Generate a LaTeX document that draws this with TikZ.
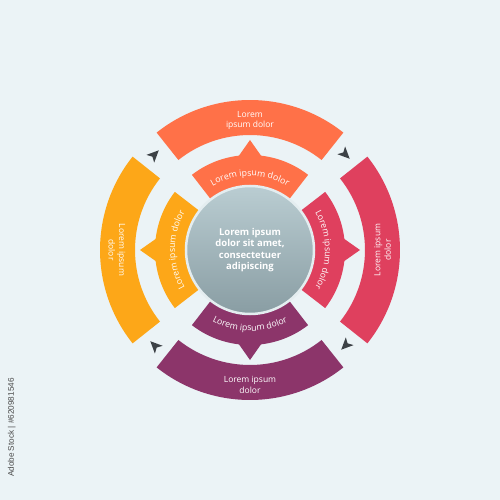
\documentclass[tikz,border=0pt]{standalone}
\usepackage{fontspec}
\setmainfont{Open Sans}
\newfontfamily\idfont{Liberation Sans}
\usetikzlibrary{decorations.text}
\definecolor{bg}{HTML}{EBF3F6}
\definecolor{cTop}{HTML}{FF7148}
\definecolor{cRight}{HTML}{DF405E}
\definecolor{cBot}{HTML}{8C356A}
\definecolor{cLeft}{HTML}{FDA718}
\definecolor{cArrow}{HTML}{3C4146}
\definecolor{cirTop}{HTML}{BACDD2}
\definecolor{cirBot}{HTML}{899DA3}
\definecolor{rim}{HTML}{E4EDF0}
\definecolor{idgray}{HTML}{4A4A4A}
\newcommand\intextfmt{\fontsize{8.8}{10}\selectfont\color{white}}
\begin{document}
\begin{tikzpicture}[x=1pt,y=1pt,
  outertext/.style={text=white, font=\fontsize{8.5}{10.5}\selectfont, align=center, inner sep=0pt},
  flowarrow/.style={fill=cArrow},
  curvedtext/.style={decorate, decoration={text along path, text align=center, text={|\intextfmt|#1}}}
]
\fill[bg] (-250,-250) rectangle (250,250);
\useasboundingbox (-250,-250) rectangle (250,250);

% outer ring
\foreach \c/\a [evaluate=\a as \s using \a-38.5, evaluate=\a as \e using \a+38.5] in {cTop/90, cRight/0, cBot/270, cLeft/180}{
  \fill[\c] (\s:115) arc[start angle=\s, end angle=\e, radius=115] -- (\e:150) arc[start angle=\e, end angle=\s, radius=150] -- cycle;
}
% inner ring with pointers
\foreach \c/\a [evaluate=\a as \s using \a-37.7, evaluate=\a as \e using \a+37.7, evaluate=\a as \p using \a-7.2, evaluate=\a as \q using \a+7.2] in {cTop/90, cRight/0, cBot/270, cLeft/180}{
  \fill[\c] (\s:58) arc[start angle=\s, end angle=\e, radius=58] -- (\e:95) arc[start angle=\e, end angle=\s, radius=95] -- cycle;
  \fill[\c] (\p:94) -- (\a:110) -- (\q:94) -- cycle;
}
% flow arrows in the gaps
\foreach \a in {45,135,225,315}{
  \fill[flowarrow, shift={(\a:135)}, rotate=\a-90] (6,0) -- (-6,5.5) -- (-3,0) -- (-6,-5.5) -- cycle;
}
% outer texts
\node[outertext] (tTop) at (90:129.5) {Lorem\\ipsum dolor};
\node[outertext, rotate=90] (tRight) at (0:132.5) {Lorem ipsum\\dolor};
\node[outertext] (tBot) at (270:135) {Lorem ipsum\\dolor};
\node[outertext, rotate=-90] (tLeft) at (180:133) {Lorem ipsum\\dolor};
% inner curved texts
\path[curvedtext={Lorem ipsum dolor}] (130:74) arc[start angle=130, end angle=50, radius=74];
\path[curvedtext={Lorem ipsum dolor}] (40:75) arc[start angle=40, end angle=-40, radius=75];
\path[curvedtext={Lorem ipsum dolor}] (220:75) arc[start angle=220, end angle=140, radius=75];
\path[curvedtext={Lorem ipsum dolor}] (230:81) arc[start angle=230, end angle=310, radius=81];
% hub
\node[circle, minimum size=128pt, inner sep=0pt, draw=rim, line width=2.5pt, top color=cirTop, bottom color=cirBot, text=white, font=\bfseries\fontsize{9.5}{11.3}\selectfont, align=center] (hub) at (0,0) {Lorem ipsum\\dolor sit amet,\\consectetuer\\adipiscing};
% stock id
\node[rotate=90, anchor=east, text=idgray, font=\idfont\fontsize{8.2}{9}\selectfont, inner sep=0pt] (stockid) at (-238.3,-128) {Adobe Stock | \#620981546};
\end{tikzpicture}
\end{document}
